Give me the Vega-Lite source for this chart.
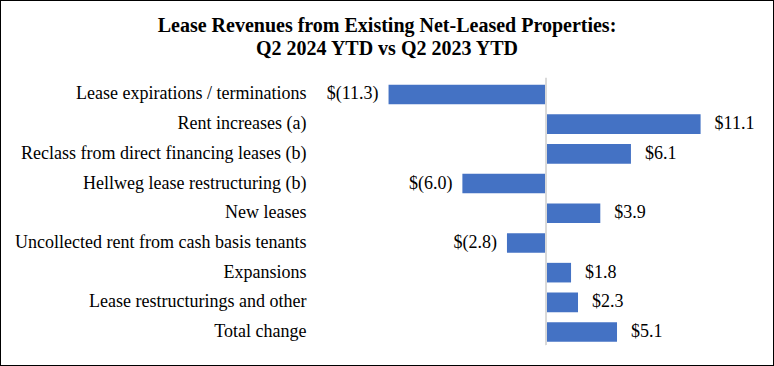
{
  "$schema": "https://vega.github.io/schema/vega-lite/v6.json",
  "width": 774,
  "height": 366,
  "autosize": {"type": "fit", "contains": "padding"},
  "padding": 0,
  "background": "white",
  "config": {"view": {"stroke": "black", "strokeWidth": 2}, "font": "Liberation Serif"},
  "title": {
    "text": ["Lease Revenues from Existing Net-Leased Properties:", "Q2 2024 YTD vs Q2 2023 YTD"],
    "font": "Liberation Serif",
    "fontSize": 20,
    "fontWeight": "bold",
    "color": "black",
    "anchor": "middle",
    "offset": -59,
    "lineHeight": 23
  },
  "data": {
    "values": [
      {"item": "Lease expirations / terminations", "value": -11.3, "label": "$(11.3)"},
      {"item": "Rent increases (a)", "value": 11.1, "label": "$11.1"},
      {"item": "Reclass from direct financing leases (b)", "value": 6.1, "label": "$6.1"},
      {"item": "Hellweg lease restructuring (b)", "value": -6.0, "label": "$(6.0)"},
      {"item": "New leases", "value": 3.9, "label": "$3.9"},
      {"item": "Uncollected rent from cash basis tenants", "value": -2.8, "label": "$(2.8)"},
      {"item": "Expansions", "value": 1.8, "label": "$1.8"},
      {"item": "Lease restructurings and other", "value": 2.3, "label": "$2.3"},
      {"item": "Total change", "value": 5.1, "label": "$5.1"}
    ]
  },
  "layer": [
    {
      "mark": {"type": "bar", "color": "#4472C4"},
      "encoding": {
        "y": {
          "field": "item",
          "type": "nominal",
          "scale": {
            "domain": ["Lease expirations / terminations", "Rent increases (a)", "Reclass from direct financing leases (b)", "Hellweg lease restructuring (b)", "New leases", "Uncollected rent from cash basis tenants", "Expansions", "Lease restructurings and other", "Total change"],
            "range": [79.6, 346.9],
            "paddingInner": 0.34,
            "paddingOuter": 0.17
          },
          "axis": {
            "title": null,
            "orient": "left",
            "offset": -311,
            "labelPadding": 5,
            "ticks": false,
            "domain": false,
            "grid": false,
            "labelFont": "Liberation Serif",
            "labelFontSize": 18,
            "labelColor": "black",
            "labelLimit": 0
          }
        },
        "x": {
          "field": "value",
          "type": "quantitative",
          "scale": {"domain": [-12, 14], "range": [378.8, 741], "zero": false, "nice": false},
          "axis": null
        }
      }
    },
    {
      "mark": {"type": "rule", "color": "#d9d9d9", "strokeWidth": 1, "yOffset": -16.5, "y2Offset": 13},
      "encoding": {
        "x": {"datum": 0, "type": "quantitative"},
        "y": {"datum": "Lease expirations / terminations", "type": "nominal"},
        "y2": {"datum": "Total change"}
      }
    },
    {
      "transform": [{"filter": "datum.value >= 0"}],
      "mark": {"type": "text", "align": "left", "baseline": "middle", "dx": 14, "fontSize": 18, "color": "black", "font": "Liberation Serif"},
      "encoding": {
        "x": {"field": "value", "type": "quantitative"},
        "y": {"field": "item", "type": "nominal"},
        "text": {"field": "label"}
      }
    },
    {
      "transform": [{"filter": "datum.value < 0"}],
      "mark": {"type": "text", "align": "right", "baseline": "middle", "dx": -10, "fontSize": 18, "color": "black", "font": "Liberation Serif"},
      "encoding": {
        "x": {"field": "value", "type": "quantitative"},
        "y": {"field": "item", "type": "nominal"},
        "text": {"field": "label"}
      }
    }
  ]
}
